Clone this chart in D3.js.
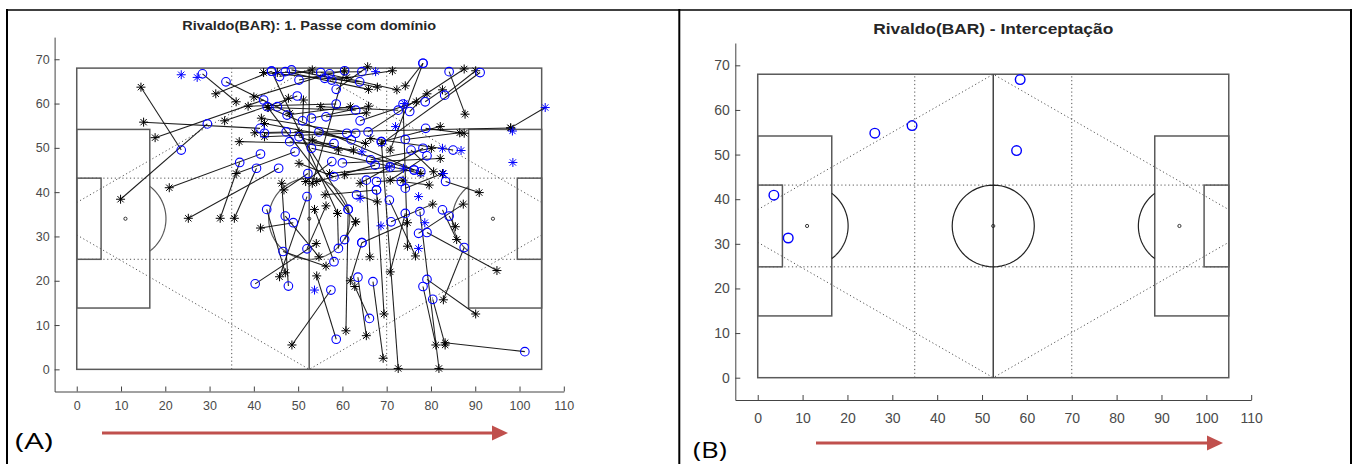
<!DOCTYPE html>
<html>
<head>
<meta charset="utf-8">
<script src="https://cdn.jsdelivr.net/npm/d3@7"></script>
<style>
  body { margin: 0; background: #fff; }
  svg { display: block; }
</style>
</head>
<body>
<script>
// ---- data ----
const xTickValues = [0, 10, 20, 30, 40, 50, 60, 70, 80, 90, 100, 110];
const yTickValues = [0, 10, 20, 30, 40, 50, 60, 70];
const titleA = "Rivaldo(BAR): 1. Passe com domínio";
const titleB = "Rivaldo(BAR) - Interceptação";

// passes: [x start (black *), y start, x end (blue o), y end]
const passes = [
  [14.5,63.7,23.6,49.5],[9.9,38.4,29.5,55.4],[15.1,55.8,41.4,54.4],[17.7,52.3,42.2,60.8],
  [20.9,41.0,41.5,48.6],[25.2,34.1,45.6,45.4],[32.4,34.1,36.8,46.7],[35.6,34.1,40.6,45.4],
  [36.0,60.4,28.4,66.7],[31.4,62.2,44.0,67.3],[33.4,56.1,49.8,61.7],[48.1,57.8,33.7,64.9],
  [36.7,51.4,58.1,51.0],[98.0,54.5,42.4,53.3],[87.7,57.6,84.1,67.2],[68.9,51.0,91.1,67.0],
  [74.2,64.0,78.2,69.1],[70.8,49.5,78.2,69.1],[90.9,39.9,83.3,42.4],[94.9,22.3,79.1,30.9],
  [82.8,15.7,87.5,27.5],[90.1,12.5,79.1,20.3],[81.1,5.5,78.2,18.7],[83.2,6.0,101.2,4.0],
  [83.2,5.5,80.4,15.8],[81.8,0.2,77.5,35.6],[72.6,0.2,68.8,51.4],[69.2,2.5,66.9,19.8],
  [69.4,12.5,67.7,40.5],[65.4,7.6,63.5,20.8],[62.8,18.7,66.1,11.5],[60.8,8.7,61.3,36.1],
  [54.2,21.1,58.6,6.8],[48.6,5.5,57.4,17.9],[54.1,28.4,40.3,19.3],[46.3,42.0,47.8,18.8],
  [45.8,20.9,52.0,39.0],[47.1,21.8,42.9,36.1],[41.5,31.9,48.9,33.1],[56.3,23.3,46.6,26.6],
  [70.8,22.0,74.2,35.2],[74.7,27.8,73.7,59.9],[76.5,25.6,70.6,38.2],[66.2,25.4,65.4,42.7],
  [85.8,29.3,82.6,36.0],[85.5,32.2,84.1,34.6],
  [42.2,67.0,63.9,64.9],[45.3,67.0,64.4,67.2],[53.2,67.6,45.8,66.1],[60.5,67.4,50.2,65.3],
  [65.7,68.3,58.6,63.2],[71.3,67.4,57.6,65.3],[87.5,67.8,65.8,53.6],[90.1,67.4,83.1,61.9],
  [72.3,63.1,55.1,67.0],[65.9,63.2,47.1,67.2],[67.9,63.7,48.5,67.6],[61.0,65.9,56.0,65.7],
  [40.0,61.5,57.1,66.7],[38.7,59.4,58.6,59.9],[43.2,59.1,63.0,58.5],[47.8,61.2,45.3,59.3],
  [51.2,60.8,51.0,56.1],[55.1,59.3,72.6,58.5],[61.8,59.3,47.5,57.4],[65.9,59.4,53.0,56.7],
  [76.7,60.4,64.0,56.1],[79.1,62.2,75.2,58.2],[82.6,63.1,78.7,60.4],[41.7,56.7,63.0,53.3],
  [42.4,55.5,62.0,51.8],[65.4,57.9,56.3,57.0],[82.1,54.8,68.8,51.4],[86.5,53.4,74.2,51.9],
  [87.5,53.3,78.8,54.4],[40.2,53.4,47.3,53.6],[42.4,52.5,61.0,53.3],[50.2,53.6,61.3,36.1],
  [53.2,51.8,77.7,44.6],[43.2,59.1,76.2,45.0],[59.1,49.5,50.2,52.5],[62.5,49.5,48.1,51.4],
  [65.2,51.0,54.7,53.6],[66.4,52.1,85.0,49.5],[80.1,49.9,66.4,47.3],[82.1,47.6,60.0,46.6],
  [80.6,44.6,75.5,49.5],[77.7,44.2,53.0,49.9],[36.0,44.2,49.3,49.1],[50.2,46.5,58.1,43.5],
  [51.7,42.4,57.6,46.9],[54.2,42.4,67.4,46.1],[57.1,44.2,70.8,45.7],[60.5,43.9,76.2,45.0],
  [64.0,42.0,78.2,49.9],[70.8,42.7,79.1,48.2],[73.7,42.7,67.7,42.4],[79.6,41.6,73.3,42.4],
  [82.6,44.2,74.2,40.9],[46.8,40.5,52.2,44.2],[56.1,39.4,67.7,40.5],[67.9,37.8,63.2,39.4],
  [80.4,37.3,71.0,33.3],[87.3,37.3,77.2,30.7],[53.7,36.1,58.1,24.3],[56.3,36.9,52.0,27.2],
  [58.9,35.2,59.1,27.3],[63.0,33.3,60.5,29.3],[74.7,33.1,64.4,28.6],[54.7,25.4,47.1,34.6],
  [61.8,20.0,64.4,28.6],[63.0,33.3,43.0,59.3],[58.9,35.2,44.0,67.3],[53.2,42.0,60.5,67.4]
];

// unsuccessful passes: [x start (black *), y start, x end (blue *), y end]
const missedPasses = [[98.0, 54.5, 105.8, 59.1]];

// blue * markers without a line
const blueStars = [
  [23.6,66.5],[27.2,65.9],[98.4,53.8],[98.5,46.7],[53.7,17.9],[68.7,32.4],[77.2,27.3],
  [78.6,33.1],[77.2,39.0],[82.6,49.9],[86.8,49.4],[72.0,54.8],[64.4,49.1],[64.0,38.6],
  [70.6,45.7],[73.8,45.4],[82.8,44.2],[67.5,67.2],[74.0,60.0]
];

// panel B: interceptions
const interceptions = [[58.5,66.8],[34.4,56.5],[26.1,54.8],[57.7,50.9],[3.6,40.9],[6.8,31.3]];

// pitch (metres)
const pitchL = 105, pitchW = 68;

// ---- drawing ----
const svg = d3.select("body").append("svg").attr("width", 1355).attr("height", 464);

function starPath(cx, cy, r) {
  const d = r * 0.7;
  return `M${cx - r},${cy}H${cx + r}M${cx},${cy - r}V${cy + r}` +
    `M${cx - d},${cy - d}L${cx + d},${cy + d}M${cx - d},${cy + d}L${cx + d},${cy - d}`;
}

function drawPitch(g, x, y, strong) {
  const solid = "#5a5a5a", dark = "#222";
  const rect = (x0, y0, x1, y1) => g.append("rect")
    .attr("x", x(x0)).attr("y", y(y1))
    .attr("width", x(x1) - x(x0)).attr("height", y(y0) - y(y1))
    .attr("fill", "none").attr("stroke", solid).attr("stroke-width", 1.5);
  const dotted = (pts) => g.append("path")
    .attr("d", d3.line().x(d => x(d[0])).y(d => y(d[1]))(pts))
    .attr("fill", "none").attr("stroke", "#555").attr("stroke-width", 1)
    .attr("stroke-dasharray", "1.2,2.6");

  // dotted guides
  dotted([[35, 0], [35, pitchW]]);
  dotted([[70, 0], [70, pitchW]]);
  dotted([[0, 24.84], [pitchL, 24.84]]);
  dotted([[0, 43.16], [pitchL, 43.16]]);
  dotted([[0, 37.66], [pitchL / 2, pitchW], [pitchL, 37.66]]);
  dotted([[0, 30.34], [pitchL / 2, 0], [pitchL, 30.34]]);

  rect(0, 0, pitchL, pitchW);
  rect(0, 13.84, 16.5, 54.16);
  rect(pitchL - 16.5, 13.84, pitchL, 54.16);
  rect(0, 24.84, 5.5, 43.16);
  rect(pitchL - 5.5, 24.84, pitchL, 43.16);

  g.append("line")
    .attr("x1", x(pitchL / 2)).attr("x2", x(pitchL / 2))
    .attr("y1", y(0)).attr("y2", y(pitchW))
    .attr("stroke", strong ? "#444" : solid).attr("stroke-width", 1.5);

  const circ = (cx, cy, a0, a1) => g.append("path")
    .attr("d", d3.line().x(t => x(cx + 9.15 * Math.cos(t))).y(t => y(cy + 9.15 * Math.sin(t)))
      (d3.range(a0, a1 + 1e-9, (a1 - a0) / 60)))
    .attr("fill", "none").attr("stroke", strong ? dark : solid).attr("stroke-width", 1.2);
  const a = Math.acos(5.5 / 9.15);
  circ(pitchL / 2, pitchW / 2, 0, 2 * Math.PI);
  circ(11, pitchW / 2, -a, a);
  circ(pitchL - 11, pitchW / 2, Math.PI - a, Math.PI + a);

  [[11, 34], [pitchL / 2, 34], [pitchL - 11, 34]].forEach(p => g.append("circle")
    .attr("cx", x(p[0])).attr("cy", y(p[1])).attr("r", 1.6)
    .attr("fill", "none").attr("stroke", dark).attr("stroke-width", 0.9));
}

function panel(cfg) {
  const x = d3.scaleLinear().domain([-5, 110]).range(cfg.xr);
  const y = d3.scaleLinear().domain([-5, 75]).range(cfg.yr);
  const g = svg.append("g");

  const xAxis = d3.axisBottom(x).tickValues(xTickValues).tickSizeInner(-5).tickSizeOuter(0).tickPadding(cfg.xpad);
  const yAxis = d3.axisLeft(y).tickValues(yTickValues).tickSizeInner(-5).tickSizeOuter(0).tickPadding(cfg.ypad);
  [g.append("g").attr("transform", `translate(0,${y(-5)})`).call(xAxis),
   g.append("g").attr("transform", `translate(${x(-5)},0)`).call(yAxis)].forEach(ax => {
    ax.select(".domain").attr("stroke", "#444");
    ax.selectAll(".tick line").attr("stroke", "#444");
    ax.selectAll(".tick text").attr("fill", "#4a4a4a")
      .style("font-family", "'Liberation Sans', Arial, sans-serif")
      .style("font-size", cfg.tickSize + "px");
  });

  g.append("text")
    .attr("x", (x(-5) + x(110)) / 2).attr("y", cfg.titleY)
    .attr("text-anchor", "middle")
    .attr("textLength", cfg.titleLen).attr("lengthAdjust", "spacingAndGlyphs")
    .style("font-family", "'Liberation Sans', Arial, sans-serif")
    .style("font-weight", "bold").style("font-size", cfg.titleSize + "px")
    .attr("fill", "#262626")
    .text(cfg.title);

  drawPitch(g, x, y, cfg.strong);
  return { g, x, y };
}

// ---- panel A ----
const A = panel({ xr: [54.6, 563.8], yr: [391.5, 37.1], xpad: 10, ypad: 5, tickSize: 12.5,
  title: titleA, titleY: 29.5, titleSize: 13, titleLen: 254, strong: false });

A.g.append("g").selectAll("line").data(passes.concat(missedPasses)).join("line")
  .attr("x1", d => A.x(d[0])).attr("y1", d => A.y(d[1]))
  .attr("x2", d => A.x(d[2])).attr("y2", d => A.y(d[3]))
  .attr("stroke", "#111").attr("stroke-opacity", 0.95).attr("stroke-width", 1.05);

A.g.append("g").selectAll("path").data(passes.concat(missedPasses)).join("path")
  .attr("d", d => starPath(A.x(d[0]), A.y(d[1]), 4.5))
  .attr("stroke", "#000").attr("stroke-width", 1).attr("fill", "none");

A.g.append("g").selectAll("circle").data(passes).join("circle")
  .attr("cx", d => A.x(d[2])).attr("cy", d => A.y(d[3])).attr("r", 4.3)
  .attr("fill", "none").attr("stroke", "#0000ff").attr("stroke-width", 1.1);

A.g.append("g").selectAll("path")
  .data(blueStars.concat(missedPasses.map(d => [d[2], d[3]]))).join("path")
  .attr("d", d => starPath(A.x(d[0]), A.y(d[1]), 4.5))
  .attr("stroke", "#0000ff").attr("stroke-width", 1).attr("fill", "none");

// ---- panel B ----
const B = panel({ xr: [735.3, 1251.2], yr: [400, 43], xpad: 13, ypad: 5.5, tickSize: 14,
  title: titleB, titleY: 33.5, titleSize: 14.5, titleLen: 240, strong: true });

B.g.append("g").selectAll("circle").data(interceptions).join("circle")
  .attr("cx", d => B.x(d[0])).attr("cy", d => B.y(d[1])).attr("r", 4.8)
  .attr("fill", "none").attr("stroke", "#0000ff").attr("stroke-width", 1.4);

// ---- frame, panel labels and direction arrows ----
const frame = svg.append("g").attr("stroke", "#000");
frame.append("line").attr("x1", 6).attr("x2", 1352).attr("y1", 10).attr("y2", 10).attr("stroke-width", 1.5);
[7, 679.3, 1351].forEach(xv => frame.append("line")
  .attr("x1", xv).attr("x2", xv).attr("y1", 9).attr("y2", 464).attr("stroke-width", 2));

[["(A)", 15, 449, 38], ["(B)", 693, 458, 34]].forEach(l => svg.append("text")
  .attr("x", l[1]).attr("y", l[2])
  .attr("textLength", l[3]).attr("lengthAdjust", "spacingAndGlyphs")
  .style("font-family", "'Open Sans', 'Noto Sans', sans-serif").style("font-size", "22px")
  .attr("fill", "#000").text(l[0]));

[[102, 508, 433], [816, 1223, 443]].forEach(a => {
  svg.append("line").attr("x1", a[0]).attr("x2", a[1] - 14).attr("y1", a[2]).attr("y2", a[2])
    .attr("stroke", "#c0504d").attr("stroke-width", 3);
  svg.append("path")
    .attr("d", `M${a[1] - 16},${a[2] - 7.5}L${a[1]},${a[2]}L${a[1] - 16},${a[2] + 7.5}Z`)
    .attr("fill", "#c0504d");
});
</script>
</body>
</html>
